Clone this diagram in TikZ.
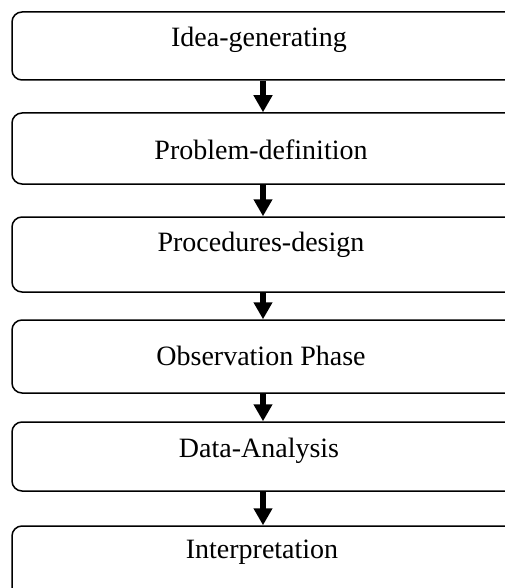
\documentclass[tikz,border=0pt]{standalone}
\usepackage{fontspec}
\setmainfont{Liberation Serif}
\usetikzlibrary{arrows.meta}
\begin{document}
\begin{tikzpicture}[x=1pt,y=-1pt,
  stage/.style={draw=black, line width=1.5pt, rounded corners=10pt, minimum width=520pt, inner sep=0pt},
  label/.style={font=\fontsize{28}{32}\selectfont, inner sep=0pt, anchor=base},
  flow/.style={line width=5.5pt, -{Triangle[width=18pt,length=17pt]}}]
  \useasboundingbox (0,0) rectangle (505,588);
  \clip (0,0) rectangle (505,588);
  % stage boxes (they run off the right edge of the page)
  \node[stage, minimum height=68pt] (b1) at (272,46) {};
  \node[stage, minimum height=71pt] (b2) at (272,148.5) {};
  \node[stage, minimum height=75pt] (b3) at (272,254.5) {};
  \node[stage, minimum height=73pt] (b4) at (272,356.5) {};
  \node[stage, minimum height=69pt] (b5) at (272,456.5) {};
  \node[stage, minimum height=80pt] (b6) at (272,566) {};
  % stage names, placed by their baselines
  \node[label] (t1) at (259,47) {Idea-generating};
  \node[label] (t2) at (261,160) {Problem-definition};
  \node[label] (t3) at (261,251) {Procedures-design};
  \node[label] (t4) at (261,365) {Observation Phase};
  \node[label] (t5) at (259,457) {Data-Analysis};
  \node[label] (t6) at (262,558) {Interpretation};
  % arrows between stages
  \coordinate (ax) at (263,0);
  \draw[flow] (b1.south -| ax) -- (b2.north -| ax);
  \draw[flow] (b2.south -| ax) -- (b3.north -| ax);
  \draw[flow] (b3.south -| ax) -- (b4.north -| ax);
  \draw[flow] (b4.south -| ax) -- (b5.north -| ax);
  \draw[flow] (b5.south -| ax) -- (b6.north -| ax);
\end{tikzpicture}
\end{document}
